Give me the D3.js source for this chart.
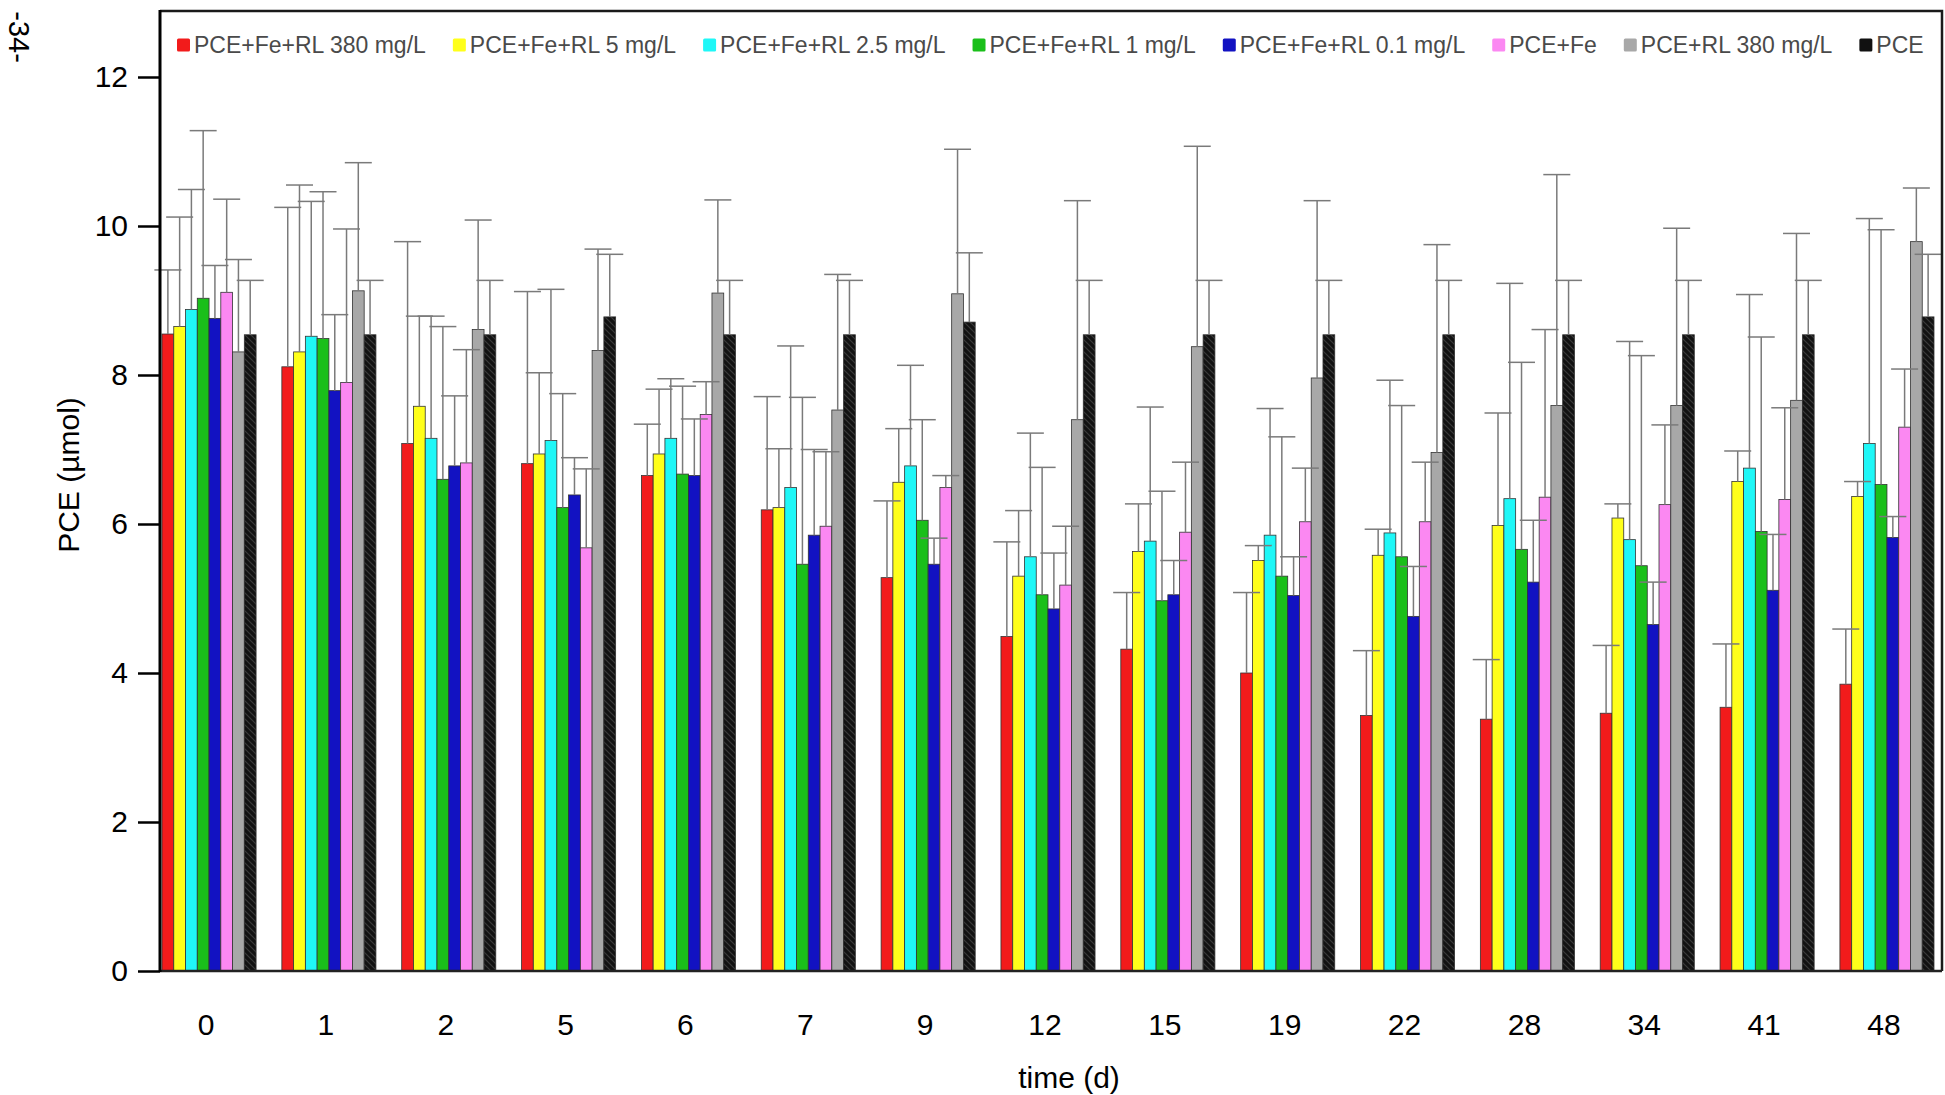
<!DOCTYPE html>
<html>
<head>
<meta charset="utf-8">
<script src="https://cdn.jsdelivr.net/npm/d3@7"></script>
<style>
  body { margin: 0; background: #fff; }
  text { font-family: "Liberation Sans", Arial, sans-serif; }
</style>
</head>
<body>
<div id="app"></div>
<script>
// sampling days (x axis)
var days = ['0', '1', '2', '5', '6', '7', '9', '12', '15', '19', '22', '28', '34', '41', '48']

var seriesNames = ['PCE+Fe+RL 380 mg/L', 'PCE+Fe+RL 5 mg/L', 'PCE+Fe+RL 2.5 mg/L', 'PCE+Fe+RL 1 mg/L',
  'PCE+Fe+RL 0.1 mg/L', 'PCE+Fe', 'PCE+RL 380 mg/L', 'PCE']

var yTicks = [0, 2, 4, 6, 8, 10, 12]

// mean PCE (umol) per series
var fe380 = [8.55, 8.11, 7.08, 6.81, 6.65, 6.19, 5.28, 4.49, 4.32, 4.00, 3.43, 3.38, 3.46, 3.54, 3.85]
var fe5 = [8.65, 8.31, 7.58, 6.94, 6.94, 6.22, 6.56, 5.30, 5.63, 5.51, 5.58, 5.98, 6.08, 6.57, 6.37]
var fe25 = [8.88, 8.52, 7.15, 7.12, 7.15, 6.49, 6.78, 5.56, 5.77, 5.85, 5.88, 6.34, 5.79, 6.75, 7.08]
var fe1 = [9.03, 8.49, 6.60, 6.22, 6.67, 5.46, 6.05, 5.05, 4.97, 5.30, 5.56, 5.66, 5.44, 5.90, 6.53]
var fe01 = [8.76, 7.79, 6.78, 6.39, 6.65, 5.85, 5.46, 4.86, 5.05, 5.04, 4.76, 5.22, 4.65, 5.11, 5.82]
var feOnly = [9.11, 7.90, 6.82, 5.68, 7.47, 5.97, 6.49, 5.18, 5.89, 6.03, 6.03, 6.36, 6.26, 6.33, 7.30]
var rl380 = [8.31, 9.13, 8.61, 8.33, 9.10, 7.53, 9.09, 7.40, 8.38, 7.96, 6.96, 7.59, 7.59, 7.66, 9.79]
var pceOnly = [8.54, 8.54, 8.54, 8.78, 8.54, 8.54, 8.71, 8.54, 8.54, 8.54, 8.54, 8.54, 8.54, 8.54, 8.78]

// standard deviations (upper error bars)
var fe380Sd = [0.86, 2.14, 2.71, 2.31, 0.69, 1.52, 1.03, 1.27, 0.76, 1.08, 0.87, 0.80, 0.91, 0.85, 0.74]
var fe5Sd = [1.47, 2.24, 1.21, 1.09, 0.87, 0.79, 0.72, 0.88, 0.64, 0.20, 0.35, 1.51, 0.19, 0.41, 0.20]
var fe25Sd = [1.61, 1.81, 1.64, 2.03, 0.80, 1.90, 1.35, 1.66, 1.80, 1.70, 2.05, 2.89, 2.66, 2.33, 3.02]
var fe1Sd = [2.25, 1.97, 2.05, 1.53, 1.18, 2.24, 1.35, 1.71, 1.47, 1.87, 2.03, 2.51, 2.82, 2.61, 3.42]
var fe01Sd = [0.71, 1.02, 0.94, 0.50, 0.76, 1.15, 0.35, 0.75, 0.46, 0.52, 0.67, 0.83, 0.57, 0.75, 0.28]
var feOnlySd = [1.25, 2.06, 1.52, 1.06, 0.44, 1.00, 0.16, 0.79, 0.94, 0.72, 0.80, 2.25, 1.07, 1.23, 0.78]
var rl380Sd = [1.24, 1.72, 1.47, 1.36, 1.25, 1.82, 1.94, 2.94, 2.69, 2.38, 2.79, 3.10, 2.38, 2.24, 0.72]
var pceOnlySd = [0.73, 0.73, 0.73, 0.84, 0.73, 0.73, 0.93, 0.73, 0.73, 0.73, 0.73, 0.73, 0.73, 0.73, 0.84]

var colors = ['#f21b1b', '#ffff1a', '#1ff7f7', '#1abf1a', '#1212c2', '#fb88f2', '#a8a8a8', 'url(#hatch)']
var legendColors = ['#f21b1b', '#ffff1a', '#1ff7f7', '#1abf1a', '#1212c2', '#fb88f2', '#a8a8a8', '#111']

var means = [fe380, fe5, fe25, fe1, fe01, feOnly, rl380, pceOnly]
var sds = [fe380Sd, fe5Sd, fe25Sd, fe1Sd, fe01Sd, feOnlySd, rl380Sd, pceOnlySd]

// flat table for the bars
var data = []
days.forEach(function (day, j) {
  seriesNames.forEach(function (name, i) {
    data.push({ day: day, name: name, idx: i, value: means[i][j], sd: sds[i][j] })
  })
})

var W = 1945, H = 1095
// note: "top" is taken by window.top, so use other names
var plotLeft = 160, plotRight = 1942, plotTop = 11, plotBottom = 971

var svg = d3.select('#app')
  .append('svg')
  .attr('width', W)
  .attr('height', H)

// hatch for the black PCE bars
var pat = svg.append('defs').append('pattern')
  .attr('id', 'hatch')
  .attr('patternUnits', 'userSpaceOnUse')
  .attr('width', 6)
  .attr('height', 6)
pat.append('rect').attr('width', 6).attr('height', 6).attr('fill', '#121212')
pat.append('path')
  .attr('d', 'M0,0 L6,6 M-1,5 L1,7 M5,-1 L7,1')
  .attr('stroke', '#3a3a3a')
  .attr('stroke-width', 1.2)

var x = d3.scaleBand()
  .domain(days)
  .range([162, 1934])
  .paddingInner(0.215)
  .paddingOuter(0)

var xs = d3.scaleBand()
  .domain(seriesNames)
  .range([0, x.bandwidth()])

var y = d3.scaleLinear()
  .domain([0, 12])
  .range([plotBottom, 77])

// bars
svg.append('g')
  .selectAll('rect')
  .data(data)
  .enter()
  .append('rect')
  .attr('x', function (d) { return x(d.day) + xs(d.name) })
  .attr('y', function (d) { return y(d.value) })
  .attr('width', xs.bandwidth())
  .attr('height', function (d) { return y(0) - y(d.value) })
  .attr('fill', function (d) { return colors[d.idx] })
  .attr('stroke', '#333')
  .attr('stroke-width', 0.8)

// error bars, upper half only
var capW = 27
var err = svg.append('g')
  .attr('stroke', '#7a7a7a')
  .attr('stroke-width', 1.5)
  .selectAll('g')
  .data(data)
  .enter()
  .append('g')
  .attr('transform', function (d) {
    return 'translate(' + (x(d.day) + xs(d.name) + xs.bandwidth() / 2) + ',0)'
  })
err.append('line')
  .attr('x1', 0).attr('x2', 0)
  .attr('y1', function (d) { return y(d.value) })
  .attr('y2', function (d) { return y(d.value + d.sd) })
err.append('line')
  .attr('x1', -capW / 2).attr('x2', capW / 2)
  .attr('y1', function (d) { return y(d.value + d.sd) })
  .attr('y2', function (d) { return y(d.value + d.sd) })

// frame top and right
svg.append('path')
  .attr('d', 'M' + plotLeft + ',' + plotTop + 'H' + plotRight + 'V' + plotBottom)
  .attr('fill', 'none')
  .attr('stroke', '#1a1a1a')
  .attr('stroke-width', 2.5)

// x baseline
svg.append('line')
  .attr('x1', plotLeft).attr('x2', plotRight)
  .attr('y1', plotBottom).attr('y2', plotBottom)
  .attr('stroke', '#222')
  .attr('stroke-width', 2.5)

// y axis
var yAxis = svg.append('g')
  .attr('transform', 'translate(' + plotLeft + ',0)')
  .call(d3.axisLeft(y).tickValues(yTicks).tickSize(22).tickPadding(10).tickSizeOuter(0))
yAxis.select('.domain').remove()
yAxis.selectAll('.tick line').attr('stroke', '#000').attr('stroke-width', 2.5)
yAxis.selectAll('text').attr('font-size', 30).attr('fill', '#000')
  .style('font-family', '"Liberation Sans", Arial, sans-serif')
yAxis.append('line')
  .attr('x1', 0).attr('x2', 0)
  .attr('y1', plotTop - 1).attr('y2', plotBottom + 1)
  .attr('stroke', '#000')
  .attr('stroke-width', 3)

// x axis labels
var xAxis = svg.append('g')
  .attr('transform', 'translate(-3,' + plotBottom + ')')
  .call(d3.axisBottom(x).tickSize(0).tickPadding(43))
xAxis.select('.domain').remove()
xAxis.selectAll('text').attr('font-size', 30).attr('fill', '#000')
  .style('font-family', '"Liberation Sans", Arial, sans-serif')

// axis titles
svg.append('text')
  .attr('transform', 'translate(68,475) rotate(-90)')
  .attr('text-anchor', 'middle')
  .attr('dy', '0.35em')
  .attr('font-size', 30)
  .text('PCE (\u00b5mol)')

svg.append('text')
  .attr('x', 1069)
  .attr('y', 1077)
  .attr('text-anchor', 'middle')
  .attr('dy', '0.35em')
  .attr('font-size', 30)
  .text('time (d)')

// page number at the left edge
svg.append('text')
  .attr('transform', 'translate(19,37) rotate(90)')
  .attr('text-anchor', 'middle')
  .attr('dy', '0.35em')
  .attr('font-size', 29)
  .text('-34-')

// legend, laid out one item after the other
var lx = 177
seriesNames.forEach(function (name, i) {
  var item = svg.append('g').attr('transform', 'translate(' + lx + ',45)')
  item.append('rect')
    .attr('x', 0).attr('y', -6.5)
    .attr('width', 13).attr('height', 13)
    .attr('rx', 1.5)
    .attr('fill', legendColors[i])
  var t = item.append('text')
    .attr('x', 17)
    .attr('dy', '0.35em')
    .attr('font-size', 23)
    .attr('fill', '#4a4a4a')
    .text(name)
  lx += 17 + t.node().getComputedTextLength() + 27
})
</script>
</body>
</html>
